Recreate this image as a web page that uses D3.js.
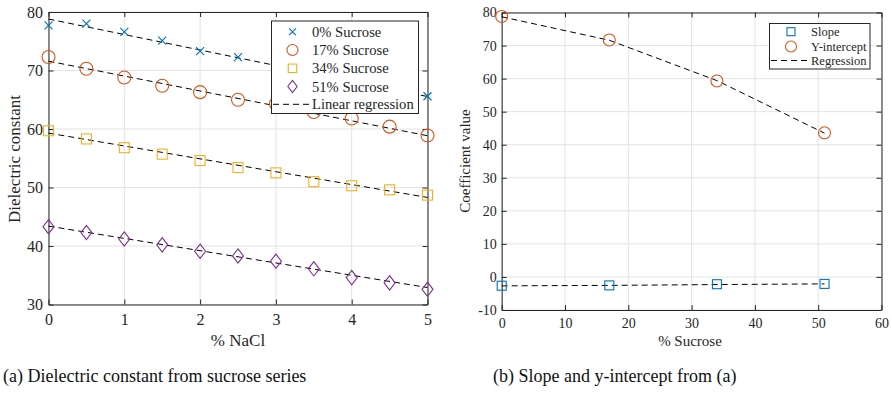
<!DOCTYPE html>
<html><head><meta charset="utf-8">
<script src="https://cdn.jsdelivr.net/npm/d3@7"></script>
<style>
html,body{margin:0;padding:0;background:#fff;}
svg text{font-family:"Liberation Serif","Times New Roman",serif;fill:#262626;}
</style></head>
<body>
<svg id="c" width="892" height="402"></svg>
<script>
// ---------- data ----------
const nacl = [0, 0.5, 1, 1.5, 2, 2.5, 3, 3.5, 4, 4.5, 5];
const seriesNames = ["0% Sucrose", "17% Sucrose", "34% Sucrose", "51% Sucrose"];
const sucrose0  = [77.7, 78.0, 76.6, 75.1, 73.3, 72.3, 70.9, 69.6, 68.2, 67.0, 65.6];
const sucrose17 = [72.3, 70.3, 68.8, 67.4, 66.3, 65.0, 64.3, 62.9, 61.8, 60.4, 58.9];
const sucrose34 = [59.7, 58.3, 56.8, 55.7, 54.6, 53.4, 52.5, 51.0, 50.3, 49.6, 48.7];
const sucrose51 = [43.3, 42.3, 41.2, 40.2, 39.1, 38.3, 37.4, 36.1, 34.6, 33.7, 32.6];
const fitIntercept = [78.8, 71.6, 59.3, 43.4];
const fitSlope = [-2.65, -2.55, -2.2, -2.1];
const xTicksA = [0, 1, 2, 3, 4, 5];
const yTicksA = [30, 40, 50, 60, 70, 80];

const sucrosePct = [0, 17, 34, 51];
const slopeVals = [-2.65, -2.55, -2.2, -2.1];
const interceptVals = [78.8, 71.7, 59.3, 43.6];
const slopeRegression = [-2.7, -2.55, -2.3, -2.1];
const interceptRegression = [78.7, 71.6, 59.4, 43.5];
const xTicksB = [0, 10, 20, 30, 40, 50, 60];
const yTicksB = [-10, 0, 10, 20, 30, 40, 50, 60, 70, 80];

const colors = ["#0072BD", "#D95319", "#EDB120", "#7E2F8E"];
const captionA = "(a) Dielectric constant from sucrose series";
const captionB = "(b) Slope and y-intercept from (a)";

// ---------- helpers ----------
const svg = d3.select("#c");
const axisCol = "#262626", gridCol = "#e3e3e3";
const fmt = d => String(d);

function marker(g, type, x, y, color, s) {
  if (type === "x") {
    g.append("path").attr("d", `M${x-s},${y-s}L${x+s},${y+s}M${x-s},${y+s}L${x+s},${y-s}`)
      .attr("stroke", color).attr("stroke-width", 1.1).attr("fill", "none");
  } else if (type === "o") {
    g.append("circle").attr("cx", x).attr("cy", y).attr("r", s)
      .attr("stroke", color).attr("stroke-width", 1.1).attr("fill", "none");
  } else if (type === "s") {
    g.append("rect").attr("x", x-s).attr("y", y-s).attr("width", 2*s).attr("height", 2*s)
      .attr("stroke", color).attr("stroke-width", 1.1).attr("fill", "none");
  } else if (type === "d") {
    g.append("path").attr("d", `M${x},${y-s*1.3}L${x+s},${y}L${x},${y+s*1.3}L${x-s},${y}Z`)
      .attr("stroke", color).attr("stroke-width", 1.1).attr("fill", "none");
  }
}

function frame(g, x, y, xt, yt, fs, tickLen) {
  const [x0, x1] = x.range(), [y0, y1] = y.range(); // y0 bottom
  g.append("g").selectAll("line").data(xt).join("line")
    .attr("x1", d => x(d)).attr("x2", d => x(d)).attr("y1", y1).attr("y2", y0)
    .attr("stroke", gridCol).attr("stroke-width", 1);
  g.append("g").selectAll("line").data(yt).join("line")
    .attr("x1", x0).attr("x2", x1).attr("y1", d => y(d)).attr("y2", d => y(d))
    .attr("stroke", gridCol).attr("stroke-width", 1);
  const bx = d3.axisBottom(x).tickValues(xt).tickFormat(fmt).tickSizeInner(-tickLen).tickSizeOuter(0).tickPadding(fs*0.55);
  const ly = d3.axisLeft(y).tickValues(yt).tickFormat(fmt).tickSizeInner(-tickLen).tickSizeOuter(0).tickPadding(fs*0.35);
  const tx = d3.axisTop(x).tickValues(xt).tickSizeInner(-tickLen).tickSizeOuter(0).tickFormat("");
  const ry = d3.axisRight(y).tickValues(yt).tickSizeInner(-tickLen).tickSizeOuter(0).tickFormat("");
  const style = a => {
    a.selectAll("path").attr("stroke", axisCol);
    a.selectAll("line").attr("stroke", axisCol);
    a.selectAll("text").attr("fill", axisCol).style("font-size", fs + "px")
      .style("font-family", '"Liberation Serif",serif');
  };
  g.append("g").attr("transform", `translate(0,${y0})`).call(bx).call(style);
  g.append("g").attr("transform", `translate(${x0},0)`).call(ly).call(style);
  g.append("g").attr("transform", `translate(0,${y1})`).call(tx).call(style);
  g.append("g").attr("transform", `translate(${x1},0)`).call(ry).call(style);
}

// ---------- panel A ----------
const gA = svg.append("g");
const xA = d3.scaleLinear().domain([0, 5]).range([48.5, 427.5]);
const yA = d3.scaleLinear().domain([30, 80]).range([304.5, 12]);
frame(gA, xA, yA, xTicksA, yTicksA, 16, 5);

const seriesA = [sucrose0, sucrose17, sucrose34, sucrose51];
const typesA = ["x", "o", "s", "d"];
const sizesA = [4, 6.5, 5, 5.5];
seriesA.forEach((vals, i) => {
  const ln = d3.line().x(d => xA(d)).y(d => yA(fitIntercept[i] + fitSlope[i] * d));
  gA.append("path").attr("d", ln([nacl[0], nacl[nacl.length-1]]))
    .attr("stroke", "#000").attr("stroke-width", 1).attr("fill", "none")
    .attr("stroke-dasharray", "6,4");
  vals.forEach((v, j) => marker(gA, typesA[i], xA(nacl[j]), yA(v), colors[i], sizesA[i]));
});

const legA = gA.append("g");
legA.append("rect").attr("x", 271.5).attr("y", 21).attr("width", 147).attr("height", 92.5)
  .attr("fill", "#fff").attr("stroke", axisCol).attr("stroke-width", 1);
const legRowsA = [31.7, 50, 68.3, 86.5, 104.3];
seriesNames.forEach((n, i) => {
  marker(legA, typesA[i], 292.5, legRowsA[i], colors[i], sizesA[i]*0.85);
  legA.append("text").attr("x", 312).attr("y", legRowsA[i]).attr("dy", "0.35em")
    .style("font-size", "14.6px").text(n);
});
legA.append("line").attr("x1", 273).attr("x2", 311).attr("y1", legRowsA[4]).attr("y2", legRowsA[4])
  .attr("stroke", "#000").attr("stroke-dasharray", "6,4");
legA.append("text").attr("x", 312).attr("y", legRowsA[4]).attr("dy", "0.35em")
  .style("font-size", "14.6px").text("Linear regression");

gA.append("text").attr("x", 238).attr("y", 346).attr("text-anchor", "middle")
  .style("font-size", "17px").text("% NaCl");
gA.append("text").attr("transform", "translate(20,159) rotate(-90)").attr("text-anchor", "middle")
  .style("font-size", "17px").text("Dielectric constant");

// ---------- panel B ----------
const gB = svg.append("g");
const xB = d3.scaleLinear().domain([0, 60]).range([501.7, 881.5]);
const yB = d3.scaleLinear().domain([-10, 80]).range([310, 12.5]);
frame(gB, xB, yB, xTicksB, yTicksB, 14, 5);

const lnB = d3.line().x((d, i) => xB(sucrosePct[i])).y(d => yB(d));
[slopeRegression, interceptRegression].forEach(arr => {
  gB.append("path").attr("d", lnB(arr)).attr("stroke", "#000").attr("stroke-width", 1)
    .attr("fill", "none").attr("stroke-dasharray", "6,4");
});
slopeVals.forEach((v, i) => marker(gB, "s", xB(sucrosePct[i]), yB(v), colors[0], 4.5));
interceptVals.forEach((v, i) => marker(gB, "o", xB(sucrosePct[i]), yB(v), colors[1], 6));

const legB = gB.append("g");
legB.append("rect").attr("x", 769.5).attr("y", 23.5).attr("width", 100.5).attr("height", 45.5)
  .attr("fill", "#fff").attr("stroke", axisCol).attr("stroke-width", 1);
const legRowsB = [31.7, 46.5, 60.5];
marker(legB, "s", 791, legRowsB[0], colors[0], 4);
marker(legB, "o", 791, legRowsB[1], colors[1], 5.5);
legB.append("line").attr("x1", 771).attr("x2", 810).attr("y1", legRowsB[2]).attr("y2", legRowsB[2])
  .attr("stroke", "#000").attr("stroke-dasharray", "6,4");
["Slope", "Y-intercept", "Regression"].forEach((t, i) => {
  legB.append("text").attr("x", 811).attr("y", legRowsB[i]).attr("dy", "0.35em")
    .style("font-size", "12.5px").text(t);
});

gB.append("text").attr("x", 690).attr("y", 346).attr("text-anchor", "middle")
  .style("font-size", "15px").text("% Sucrose");
gB.append("text").attr("transform", "translate(470,161) rotate(-90)").attr("text-anchor", "middle")
  .style("font-size", "15px").text("Coefficient value");

svg.append("text").attr("x", 3).attr("y", 382).style("font-size", "18px")
  .style("fill", "#111").text(captionA);
svg.append("text").attr("x", 493).attr("y", 382).style("font-size", "18px")
  .style("fill", "#111").text(captionB);
</script>
</body></html>
